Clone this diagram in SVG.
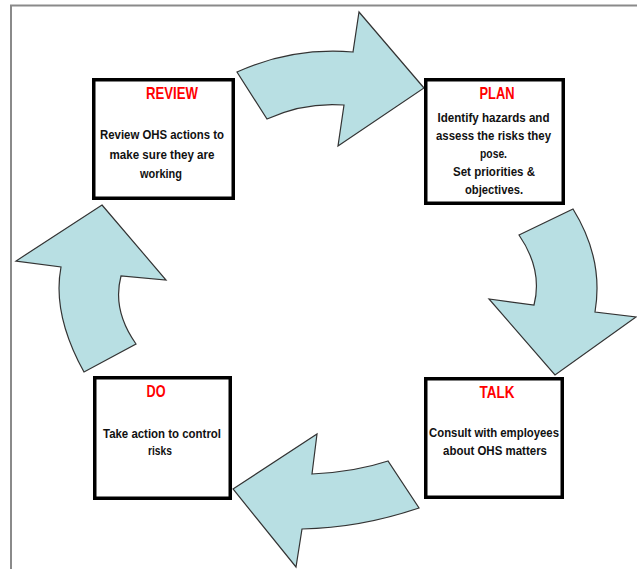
<svg xmlns="http://www.w3.org/2000/svg" width="637" height="569" viewBox="0 0 637 569">
<style>
.frame{fill:none;stroke:#8a8a8a;stroke-width:2}
.arrow{fill:#b8dfe3;stroke:#333;stroke-width:1.2;stroke-linejoin:miter}
.box{fill:#fff;stroke:#000;stroke-width:3.5}
.title{font-family:"Liberation Sans Narrow","Liberation Sans",Arial,sans-serif;font-weight:bold;font-size:16.5px;fill:#ff0000;text-anchor:middle}
.body{font-family:"Liberation Sans Narrow","Liberation Sans",Arial,sans-serif;font-weight:bold;font-size:13.5px;fill:#111;text-anchor:middle}
</style>
<rect width="637" height="569" fill="#fff"/>
<rect class="frame" x="11" y="5.5" width="700" height="700"/>
<g id="connectors">
<path class="arrow" d="M237,72 Q292,47 353,52 L359,12 L424,88 L338,146 L344,105 Q304,102 267,119 Z"/>
<path class="arrow" d="M519,235 L573,209 Q604,259 595,312 L636,317 L555,375 L489,299 L534,305 Q543,270 519,235 Z"/>
<path class="arrow" d="M233,489 L317,434 L312,474 Q355,472 388,461 L419,508 Q360,528 302,529 L296,567 Z"/>
<path class="arrow" d="M102,205 L166,280 L121,276 Q112,310 136,344 L84,372 Q52,314 61,267 L16,261 Z"/>
</g>
<g id="review">
<rect class="box" x="93.75" y="79.75" width="139.5" height="118.5"/>
<text class="title" x="172" y="99" textLength="52" lengthAdjust="spacingAndGlyphs">REVIEW</text>
<text class="body" x="162" y="139" textLength="124" lengthAdjust="spacingAndGlyphs">Review OHS actions to</text>
<text class="body" x="162" y="158.5" textLength="105" lengthAdjust="spacingAndGlyphs">make sure they are</text>
<text class="body" x="161" y="178" textLength="42" lengthAdjust="spacingAndGlyphs">working</text>
</g>
<g id="plan">
<rect class="box" x="425.75" y="79.75" width="137.5" height="123.5"/>
<text class="title" x="497" y="99" textLength="35" lengthAdjust="spacingAndGlyphs">PLAN</text>
<text class="body" x="493.5" y="122" textLength="112" lengthAdjust="spacingAndGlyphs">Identify hazards and</text>
<text class="body" x="493.5" y="140" textLength="115" lengthAdjust="spacingAndGlyphs">assess the risks they</text>
<text class="body" x="493.5" y="158" textLength="27" lengthAdjust="spacingAndGlyphs">pose.</text>
<text class="body" x="494" y="176" textLength="82" lengthAdjust="spacingAndGlyphs">Set priorities &amp;</text>
<text class="body" x="494" y="194" textLength="58" lengthAdjust="spacingAndGlyphs">objectives.</text>
</g>
<g id="do">
<rect class="box" x="94.75" y="377.75" width="135.5" height="120.5"/>
<text class="title" x="156" y="397" textLength="19" lengthAdjust="spacingAndGlyphs">DO</text>
<text class="body" x="162" y="438" textLength="118" lengthAdjust="spacingAndGlyphs">Take action to control</text>
<text class="body" x="160" y="455" textLength="24" lengthAdjust="spacingAndGlyphs">risks</text>
</g>
<g id="talk">
<rect class="box" x="425.75" y="378.75" width="136.5" height="118.5"/>
<text class="title" x="497" y="398" textLength="35" lengthAdjust="spacingAndGlyphs">TALK</text>
<text class="body" x="494" y="437" textLength="130" lengthAdjust="spacingAndGlyphs">Consult with employees</text>
<text class="body" x="495" y="455" textLength="104" lengthAdjust="spacingAndGlyphs">about OHS matters</text>
</g>
</svg>
